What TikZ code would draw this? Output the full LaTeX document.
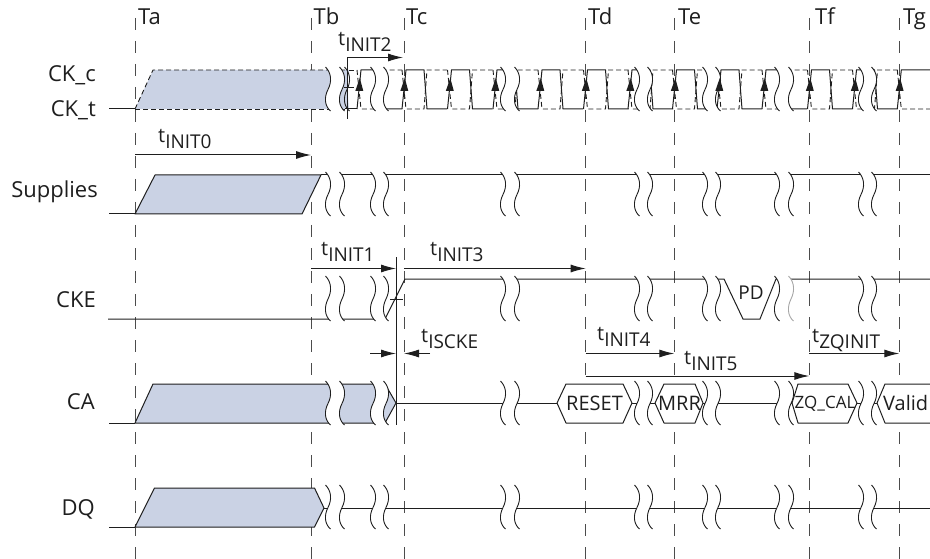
\documentclass[tikz,border=0pt]{standalone}
\usepackage{fontspec}
\setmainfont{Open Sans}
\usetikzlibrary{arrows.meta}
\definecolor{sigblue}{HTML}{CAD2E4}
\definecolor{ink}{HTML}{1E1E1E}
\tikzset{
  sig/.style={draw=ink,line width=1pt},
  clkdash/.style={draw=ink,line width=0.9pt,dash pattern=on 5pt off 3pt},
  grid line/.style={draw=black!70,line width=0.9pt,dash pattern=on 12pt off 11pt},
  timing/.style={draw=ink,line width=1pt,-{Latex[length=15pt,width=8pt]}},
  wv/.style={draw=ink,line width=0.9pt},
  lbl/.style={inner sep=0pt,anchor=base west,font=\fontsize{22}{22}\selectfont,text=ink},
  rowlbl/.style={inner sep=0pt,anchor=base east,font=\fontsize{22}{22}\selectfont,text=ink},
  hexlbl/.style={inner sep=0pt,anchor=center,font=\fontsize{20}{20}\selectfont,text=ink},
}
\newcommand\tsub[1]{{\fontsize{20}{20}\selectfont t}\raisebox{-6pt}{\fontsize{19}{19}\selectfont #1}}
\newcommand\wavepath[3]{({#1-2.5},{#2-3}) .. controls ({#1+3.5},{#2+.08*(#3-#2)}) and ({#1+4},{#2+.3*(#3-#2)}) .. ({#1},{#2+.5*(#3-#2)}) .. controls ({#1-4},{#2+.7*(#3-#2)}) and ({#1-3.5},{#2+.92*(#3-#2)}) .. ({#1+2.5},{#3+2})}
\newcommand\wavepathrev[3]{({#1+2.5},{#3+2}) .. controls ({#1-3.5},{#2+.92*(#3-#2)}) and ({#1-4},{#2+.7*(#3-#2)}) .. ({#1},{#2+.5*(#3-#2)}) .. controls ({#1+4},{#2+.3*(#3-#2)}) and ({#1+3.5},{#2+.08*(#3-#2)}) .. ({#1-2.5},{#2-3})}
% #1 #2 wave x, #3 top, #4 bottom, #5 colour of the second wave
\newcommand\brk[5]{
  \fill[white] \wavepath{#1}{#3}{#4} -- \wavepathrev{#2}{#3}{#4} -- cycle;
  \draw[wv] \wavepath{#1}{#3}{#4};
  \draw[wv,draw=#5] \wavepath{#2}{#3}{#4};
}
\begin{document}
\begin{tikzpicture}[x=1pt,y=-1pt]
\useasboundingbox (0,0) rectangle (930,559);
% time grid
\foreach \n/\x/\lx in {a/135/138,b/311/313.5,c/404/406,d/585.7/588,e/674.3/678,f/809.3/815,g/899.3/903}{
  \draw[grid line] (\x,18) -- (\x,559);
  \node[lbl] (T\n) at (\lx,25) {T\n};
}
% row labels
\node[rowlbl] (lckc) at (96,82) {CK\_c};
\node[rowlbl] (lckt) at (96,117) {CK\_t};
\node[rowlbl] (lsup) at (98,198) {Supplies};
\node[rowlbl] (lcke) at (96,307) {CKE};
\node[rowlbl] (lca) at (95,409) {CA};
\node[rowlbl] (ldq) at (95,515) {DQ};
% CK
\fill[sigblue] (135,109) -- (153,70) -- (349,70) -- (347,85) -- (349,109) -- cycle;
\draw[sig] (109,109) -- (135,109);
\draw[clkdash] (135,109) -- (153,70) -- (345,70);
\draw[clkdash] (135,109) -- (345,109);
\draw[sig] (345,109) -- (357,109);
\draw[clkdash] (349,70) -- (357,70);
\foreach \x in {359,404,449.5,495,540,585.5,630,674.5,719,764,809.5,854.5}{
  \draw[clkdash] ({\x-2},70) -- ({\x+2},109) -- ({\x+20},109) -- ({\x+23},70) -- ({\x+43},70);
  \draw[sig,line join=miter] ({\x-2},109) -- ({\x+2},70) -- ({\x+20},70) -- ({\x+23},109) -- ({\x+43},109);
}
\draw[clkdash] (897.3,70) -- (901.3,109) -- (930,109);
\draw[sig] (897.3,109) -- (901.3,70) -- (930,70);
% Supplies
\draw[sig] (109,214) -- (135,214);
\draw[sig,fill=sigblue,line join=round] (135,214) -- (155,175) -- (321,175) -- (302,214) -- cycle;
\draw[sig] (321,175) -- (930,175);
% CKE
\draw[sig] (108,319) -- (385,319) -- (405,279) -- (724,279) -- (743,319) -- (760,319) -- (776,279) -- (930,279);
% CA
\draw[sig] (109,423) -- (135,423);
\draw[sig,fill=sigblue,line join=round] (135,423) -- (153,384) -- (385,384) -- (396,403) -- (385,423) -- cycle;
\draw[sig] (396,403) -- (557,403);
\draw[sig] (632,403) -- (655,403);
\draw[sig] (703,403) -- (792,403);
\draw[sig] (857,403) -- (877,403);
% DQ
\draw[sig] (109,527) -- (135,527);
\draw[sig,fill=sigblue,line join=round] (135,527) -- (154.5,488) -- (314.5,488) -- (324,508) -- (314.5,527) -- cycle;
\draw[sig] (324,508) -- (930,508);
% breaks
\foreach \t/\b in {70/109,175/214,384/423,488/527,279/319}{
  \brk{328}{342}{\t}{\b}{ink}
  \brk{373}{386}{\t}{\b}{ink}
  \brk{503}{517}{\t}{\b}{ink}
  \brk{637}{650}{\t}{\b}{ink}
  \brk{705}{718}{\t}{\b}{ink}
  \brk{861}{874}{\t}{\b}{ink}
}
\foreach \t/\b in {70/109,175/214,384/423,488/527}{
  \brk{777}{791}{\t}{\b}{ink}
}
\brk{777}{791}{279}{319}{black!35}
% CK blue sliver edge
\draw[wv] \wavepath{347}{70}{109};
% bus hexagons
\draw[sig,fill=white,line join=round] (557,403) -- (566,384) -- (623,384) -- (632,403) -- (623,423) -- (566,423) -- cycle;
\draw[sig,fill=white,line join=round] (655,403) -- (664,384) -- (695,384) -- (703,403) -- (695,423) -- (664,423) -- cycle;
\draw[sig,fill=white,line join=round] (792,403) -- (798,384) -- (848,384) -- (857,403) -- (848,423) -- (798,423) -- cycle;
\fill[white] (877,403) -- (885,384) -- (930,384) -- (930,423) -- (885,423) -- cycle;
\draw[sig,line join=round] (930,384) -- (885,384) -- (877,403) -- (885,423) -- (930,423);
\node[hexlbl] (hreset) at (594.5,403.5) {RESET};
\node[hexlbl] (hmrr) at (679.5,403.5) {MRR};
\node[hexlbl] (hzq) at (825,403.5) {\fontsize{17}{17}\selectfont ZQ\_CAL};
\node[inner sep=0pt,anchor=base west,font=\fontsize{20}{20}\selectfont,text=ink] (hvalid) at (883,410) {Valid};
\node[hexlbl] (hpd) at (751,292.5) {\fontsize{19}{19}\selectfont PD};
% clock edge arrows
\foreach \x in {359,404,449.5,495,540,585.5,630,674.5,719,764,809.5,854.5,899.3}{
  \fill[ink] ({\x+0.8},78) -- ({\x+4.3},91) -- ({\x-3.7},91) -- cycle;
}
% reference lines
\coordinate (i2a) at (347,57.5);
\coordinate (i2b) at (403,57.5);
\coordinate (i2top) at (347,57.5);
\coordinate (i2bot) at (347,119);
\draw[sig] (i2top) -- (i2bot);
\draw[sig] (344,87.5) -- (354,87.5);
\draw[timing] (i2a) -- (i2b);
\coordinate (vtop) at (396,257);
\coordinate (vbot) at (396,425);
\draw[sig] (vtop) -- (vbot);
\draw[sig] (390,299) -- (403,299);
% timing arrows
\coordinate (i0a) at (135,155);
\coordinate (i0b) at (311,155);
\coordinate (i1a) at (311,268.5);
\coordinate (i1b) at (396,268.5);
\coordinate (i3a) at (404,268.5);
\coordinate (i3b) at (585.7,268.5);
\coordinate (isa) at (370,353.5);
\coordinate (isb) at (396,353.5);
\coordinate (isc) at (430,353.5);
\coordinate (isd) at (404,353.5);
\coordinate (i4a) at (585.7,353.5);
\coordinate (i4b) at (674.3,353.5);
\coordinate (i5a) at (585.7,376);
\coordinate (i5b) at (809.3,376);
\coordinate (zqa) at (809.3,353.5);
\coordinate (zqb) at (899.3,353.5);
\draw[timing] (i0a) -- (i0b);
\draw[timing] (i1a) -- (i1b);
\draw[timing] (i3a) -- (i3b);
\draw[timing] (isa) -- (isb);
\draw[timing] (isc) -- (isd);
\draw[timing] (i4a) -- (i4b);
\draw[timing] (i5a) -- (i5b);
\draw[timing] (zqa) -- (zqb);
% timing labels
\node[lbl] (t2) at (338,46) {\tsub{INIT2}};
\node[lbl] (t0) at (158,143) {\tsub{INIT0}};
\node[lbl] (t1) at (321,255) {\tsub{INIT1}};
\node[lbl] (t3) at (430,255) {\tsub{INIT3}};
\node[lbl] (tis) at (421,342) {\tsub{ISCKE}};
\node[lbl] (t4) at (597,340) {\tsub{INIT4}};
\node[lbl] (t5) at (684,364) {\tsub{INIT5}};
\node[lbl] (tzq) at (812,342) {\tsub{ZQINIT}};
\end{tikzpicture}
\end{document}
